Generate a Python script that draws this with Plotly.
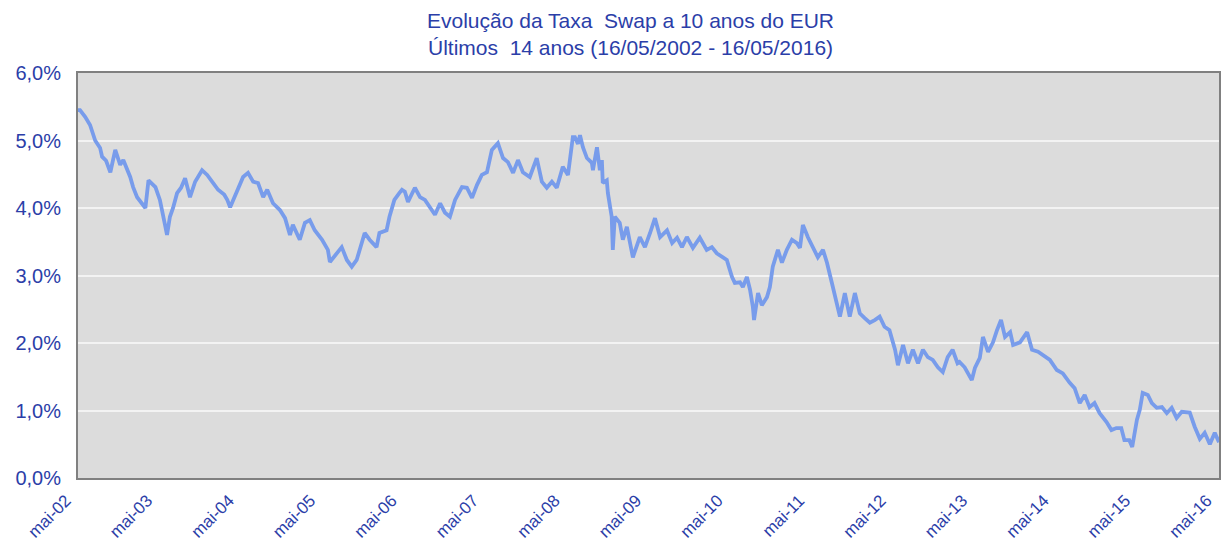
import plotly.graph_objects as go

# Dates and EUR 10y swap rate (%)
dates = [
    "2002-05-16", "2002-05-25", "2002-06-17", "2002-07-09", "2002-08-01", "2002-08-23", "2002-09-01",
    "2002-09-19", "2002-10-08", "2002-10-30", "2002-11-21", "2002-12-05", "2003-01-05", "2003-01-18",
    "2003-02-05", "2003-02-23", "2003-03-14", "2003-03-28", "2003-04-14", "2003-04-28",
    "2003-05-18", "2003-06-01", "2003-06-10", "2003-06-19", "2003-07-02", "2003-07-16", "2003-08-03",
    "2003-08-21", "2003-09-08", "2003-09-30", "2003-10-23", "2003-11-23", "2003-12-16", "2004-01-12",
    "2004-02-03", "2004-03-01", "2004-03-15", "2004-03-28", "2004-04-28",
    "2004-05-25", "2004-06-16", "2004-07-09", "2004-07-31", "2004-08-23", "2004-09-10", "2004-10-06",
    "2004-11-06", "2004-11-29", "2004-12-21", "2005-01-03", "2005-02-03", "2005-02-26", "2005-03-20",
    "2005-04-11",
    "2005-05-14", "2005-06-09", "2005-06-18", "2005-07-19", "2005-08-10", "2005-09-02", "2005-09-24",
    "2005-10-16", "2005-11-07", "2005-11-21", "2005-12-13", "2006-01-13", "2006-01-26", "2006-02-27",
    "2006-03-12", "2006-04-03", "2006-04-25",
    "2006-05-07", "2006-05-20", "2006-06-03", "2006-07-04", "2006-07-27", "2006-08-18", "2006-09-10",
    "2006-10-02", "2006-10-25", "2006-11-16", "2006-12-08", "2006-12-31", "2007-01-31", "2007-02-22",
    "2007-03-17", "2007-04-08", "2007-04-30",
    "2007-05-23", "2007-06-14", "2007-07-11", "2007-08-03", "2007-08-25", "2007-09-17", "2007-10-09",
    "2007-10-31", "2007-12-01", "2008-01-01", "2008-01-24", "2008-02-15", "2008-03-09", "2008-03-31",
    "2008-04-27",
    "2008-05-20", "2008-06-11", "2008-06-20", "2008-07-04", "2008-07-13", "2008-07-26", "2008-08-13",
    "2008-09-04", "2008-09-09", "2008-09-27", "2008-10-10", "2008-10-19", "2008-10-23", "2008-11-10",
    "2008-11-15", "2008-11-24", "2008-12-02", "2008-12-07", "2008-12-16", "2009-01-07", "2009-01-21",
    "2009-02-08", "2009-03-07", "2009-04-07", "2009-04-30",
    "2009-05-23", "2009-06-14", "2009-07-07", "2009-08-07", "2009-08-30", "2009-09-21", "2009-10-13",
    "2009-11-04", "2009-12-01", "2010-01-01", "2010-02-01", "2010-02-24", "2010-03-18", "2010-03-31",
    "2010-05-02",
    "2010-05-25", "2010-06-07", "2010-06-30", "2010-07-13", "2010-07-31", "2010-08-14", "2010-08-27",
    "2010-09-01", "2010-09-19", "2010-10-06", "2010-10-29", "2010-11-11", "2010-11-24", "2010-12-17",
    "2011-01-04", "2011-01-26", "2011-02-18", "2011-03-12", "2011-03-26", "2011-04-08", "2011-04-30",
    "2011-05-23", "2011-06-14", "2011-07-07", "2011-07-25", "2011-08-16", "2011-08-30", "2011-09-21",
    "2011-10-13", "2011-11-04", "2011-11-27", "2011-12-19", "2012-01-10", "2012-02-02", "2012-02-24",
    "2012-03-17", "2012-04-08", "2012-04-30",
    "2012-05-25", "2012-06-07", "2012-06-30", "2012-07-22", "2012-08-13", "2012-09-05", "2012-09-27",
    "2012-10-19", "2012-11-10", "2012-12-03", "2012-12-25", "2013-01-16", "2013-02-07", "2013-03-01",
    "2013-03-10", "2013-04-02", "2013-05-04",
    "2013-05-18", "2013-06-09", "2013-06-23", "2013-07-16", "2013-08-07", "2013-08-25", "2013-09-12",
    "2013-09-30", "2013-10-23", "2013-11-05", "2013-12-06", "2014-01-07", "2014-01-29", "2014-02-25",
    "2014-03-19", "2014-04-19",
    "2014-05-20", "2014-06-16", "2014-07-17", "2014-08-08", "2014-08-31", "2014-09-22", "2014-10-14",
    "2014-11-05", "2014-11-28", "2014-12-29", "2015-01-20", "2015-02-11", "2015-03-05", "2015-03-19",
    "2015-04-10", "2015-04-23",
    "2015-05-14", "2015-05-27", "2015-06-09", "2015-07-02", "2015-07-20", "2015-08-11", "2015-09-03",
    "2015-09-25", "2015-10-17", "2015-11-08", "2015-12-01", "2016-01-06", "2016-01-28", "2016-02-20",
    "2016-03-13", "2016-04-05", "2016-04-27", "2016-05-16",
]
swap_rate = [
    5.45, 5.45, 5.35, 5.23, 5.00, 4.89, 4.76,
    4.70, 4.53, 4.86, 4.64, 4.71, 4.46, 4.31,
    4.16, 4.08, 4.00, 4.41, 4.36, 4.31,
    4.12, 3.85, 3.75, 3.60, 3.87, 4.00, 4.22,
    4.30, 4.44, 4.16, 4.39, 4.56, 4.49, 4.37,
    4.27, 4.20, 4.12, 4.01, 4.27,
    4.46, 4.52, 4.39, 4.37, 4.16, 4.27, 4.07,
    3.97, 3.85, 3.60, 3.75, 3.53, 3.78, 3.82,
    3.67,
    3.53, 3.38, 3.20, 3.33, 3.42, 3.23, 3.13,
    3.23, 3.48, 3.63, 3.53, 3.42, 3.63, 3.67,
    3.87, 4.12, 4.22,
    4.27, 4.24, 4.09, 4.30, 4.16, 4.12, 4.00,
    3.90, 4.07, 3.93, 3.87, 4.12, 4.31, 4.30,
    4.15, 4.34, 4.49,
    4.53, 4.86, 4.96, 4.74, 4.68, 4.52, 4.71,
    4.53, 4.46, 4.74, 4.39, 4.30, 4.39, 4.30,
    4.61,
    4.49, 5.05, 5.05, 4.95, 5.08, 4.90, 4.74,
    4.67, 4.56, 4.90, 4.56, 4.71, 4.37, 4.41,
    4.22, 4.02, 3.87, 3.38, 3.87, 3.78, 3.53,
    3.72, 3.27, 3.57, 3.42,
    3.63, 3.85, 3.57, 3.67, 3.48, 3.56, 3.42,
    3.57, 3.41, 3.56, 3.38, 3.42, 3.33, 3.30,
    3.23,
    2.98, 2.89, 2.90, 2.83, 2.98, 2.79, 2.53,
    2.34, 2.74, 2.56, 2.68, 2.83, 3.13, 3.38,
    3.19, 3.38, 3.53, 3.48, 3.41, 3.75, 3.57,
    3.42, 3.27, 3.38, 3.19, 2.89, 2.68, 2.39,
    2.74, 2.39, 2.74, 2.44, 2.37, 2.30, 2.34,
    2.39, 2.24, 2.19,
    1.90, 1.67, 1.97, 1.70, 1.90, 1.70, 1.90,
    1.79, 1.75, 1.64, 1.57, 1.79, 1.90, 1.70,
    1.72, 1.64, 1.45,
    1.63, 1.78, 2.09, 1.87, 2.01, 2.19, 2.34,
    2.09, 2.16, 1.97, 2.01, 2.16, 1.90, 1.87,
    1.82, 1.75,
    1.60, 1.55, 1.41, 1.33, 1.11, 1.23, 1.05,
    1.11, 0.96, 0.83, 0.71, 0.74, 0.74, 0.56,
    0.56, 0.46,
    0.86, 1.01, 1.26, 1.23, 1.11, 1.04, 1.05,
    0.96, 1.04, 0.89, 0.98, 0.97, 0.76, 0.58,
    0.67, 0.50, 0.67, 0.53,
]

tick_years = list(range(2002, 2017))
tick_labels = ["mai-%02d" % (y % 100) for y in tick_years]
tick_dates = ["%d-05-16" % y for y in tick_years]
y_ticks = [0, 1, 2, 3, 4, 5, 6]
y_tick_labels = ["0,0%", "1,0%", "2,0%", "3,0%", "4,0%", "5,0%", "6,0%"]

title_line1 = "Evolução da Taxa\u00a0 Swap a 10 anos do EUR"
title_line2 = "Últimos\u00a0 14 anos (16/05/2002 - 16/05/2016)"

TEXT_BLUE = "#2B3EA8"
FONT = "Liberation Sans, Arial, sans-serif"

fig = go.Figure()
fig.add_trace(go.Scatter(
    x=dates, y=swap_rate, mode="lines",
    line=dict(color="#789CEB", width=3.8),
    hoverinfo="x+y", showlegend=False,
))

fig.add_annotation(
    text=title_line1 + "<br>" + title_line2,
    xref="paper", yref="paper",
    x=(630 - 78) / 1141, y=1 + (73 - 7) / 405,
    xanchor="center", yanchor="top",
    showarrow=False, align="center",
    font=dict(size=21, color=TEXT_BLUE, family=FONT),
)

fig.update_layout(
    width=1227, height=542,
    margin=dict(l=78, r=8, t=73, b=64, autoexpand=False),
    paper_bgcolor="white",
    plot_bgcolor="#DCDCDC",
    font=dict(family=FONT, color=TEXT_BLUE),
    xaxis=dict(
        type="date", automargin=False,
        range=[tick_dates[0], tick_dates[-1]],
        tickmode="array", tickvals=tick_dates, ticktext=tick_labels,
        tickangle=-45, tickfont=dict(size=17, color=TEXT_BLUE),
        showgrid=False, zeroline=False,
        showline=True, linecolor="#808080", linewidth=2, mirror=True,
        ticks="", ticklabelstandoff=4, ticklabelshift=-12,
    ),
    yaxis=dict(
        automargin=False,
        range=[0, 6],
        tickmode="array", tickvals=y_ticks, ticktext=y_tick_labels,
        tickfont=dict(size=20, color=TEXT_BLUE),
        showgrid=True, gridcolor="#F3F3F3", gridwidth=1.5,
        zeroline=False,
        showline=True, linecolor="#808080", linewidth=2, mirror=True,
        ticks="", ticklabelstandoff=11,
    ),
)

fig.write_html(
    "out.html",
    config={"displayModeBar": False},
    post_script="document.body.style.margin='0';document.body.style.overflow='hidden';",
)
